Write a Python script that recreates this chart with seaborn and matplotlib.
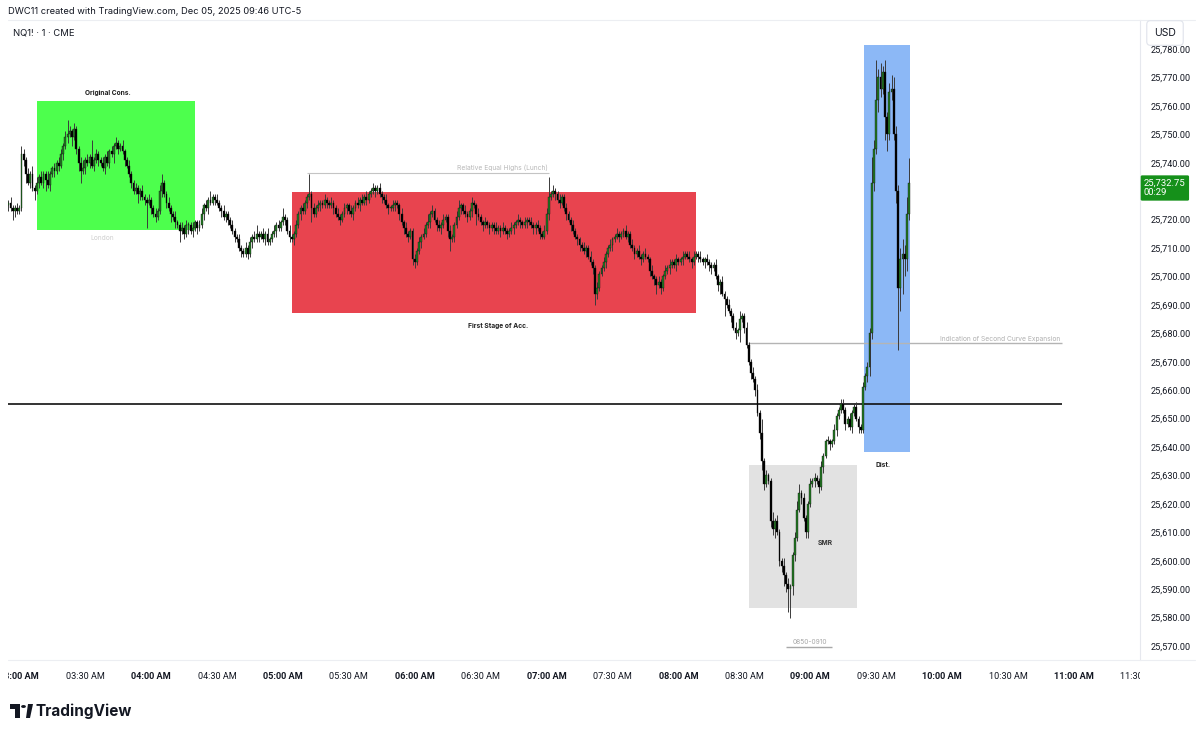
import numpy as np
import pandas as pd
import seaborn as sns
import matplotlib.pyplot as plt
from matplotlib.patches import Rectangle, Circle, Polygon
from matplotlib.transforms import Bbox, TransformedBbox

# NQ1! 1-minute closes, offsets from 25,700 (first candle 02:55)
base = 25700
first_open = 25
closes = [
    26, 24, 23, 24, 23, 24, 43, 41, 36, 33, 36, 31, 30, 33, 35, 33, 36, 34, 32, 36,
    38, 37, 40, 39, 43, 46, 49, 50, 51, 49, 52, 45, 40, 37, 38, 41, 40, 42, 39, 41,
    43, 41, 40, 38, 42, 40, 44, 43, 46, 47, 45, 46, 44, 41, 39, 36, 33, 30, 31, 29,
    30, 28, 27, 26, 27, 24, 22, 21, 23, 30, 33, 29, 26, 24, 22, 21, 19, 18, 16, 17,
    15, 18, 18, 16, 17, 19, 17, 18, 22, 25, 24, 27, 26, 28, 27, 26, 24, 23, 21, 22,
    20, 18, 16, 14, 13, 10, 9, 8, 10, 8, 12, 14, 13, 15, 14, 15, 13, 15, 12, 13,
    15, 16, 18, 17, 19, 21, 20, 16, 14, 13, 15, 18, 22, 24, 23, 26, 28, 29, 24, 22,
    24, 25, 26, 25, 27, 26, 25, 26, 24, 22, 21, 20, 22, 24, 25, 23, 22, 24, 26, 25,
    27, 26, 28, 27, 29, 30, 31, 30, 31, 29, 28, 27, 25, 24, 24, 25, 26, 25, 22, 19,
    17, 15, 14, 16, 6, 5, 9, 12, 14, 15, 18, 19, 22, 23, 20, 18, 17, 18, 20, 21,
    16, 13, 14, 18, 21, 24, 25, 23, 22, 21, 23, 26, 25, 22, 21, 19, 18, 19, 18, 17,
    18, 17, 16, 17, 16, 17, 16, 15, 16, 17, 18, 19, 20, 19, 18, 19, 20, 19, 18, 17,
    18, 17, 15, 14, 16, 22, 28, 29, 30, 29, 27, 26, 28, 24, 22, 20, 18, 16, 14, 13,
    11, 10, 9, 10, 7, 5, 3, -6, -4, 1, 3, 5, 8, 10, 11, 13, 14, 15, 14, 15,
    16, 14, 15, 11, 10, 8, 9, 7, 6, 8, 7, 6, 2, 0, -1, -3, -2, -4, 0, 2,
    3, 4, 5, 4, 6, 5, 6, 7, 8, 7, 6, 5, 7, 8, 7, 6, 5, 6, 5, 4,
    3, 4, 0, -3, -2, -6, -8, -10, -12, -14, -18, -20, -19, -15, -14, -18, -24, -30, -34, -36,
    -40, -48, -55, -65, -73, -70, -72, -86, -89, -86, -90, -100, -102, -105, -108, -110, -109, -98, -92, -82,
    -76, -78, -85, -90, -80, -73, -72, -71, -72, -74, -67, -63, -58, -58, -59, -58, -54, -49, -47, -45,
    -47, -52, -50, -53, -48, -46, -50, -53, -54, -39, -35, -32, -20, 33, 45, 62, 70, 66, 72, 56,
    50, 65, 66, 50, 30, -4, 6, 8, 6, 22, 32.75,
]
# wick lengths above / below the candle body (points)
wick_hi = [
    1, 2, 1, 1, 2, 1, 3, 2, 1, 2, 1, 3, 1, 2, 1, 2, 1, 1, 3, 1,
    1, 2, 1, 2, 2, 1, 2, 5, 2, 1, 2, 1, 1, 2, 3, 1, 2, 1, 6, 1,
    2, 1, 1, 2, 1, 2, 1, 2, 1, 2, 1, 1, 2, 1, 1, 2, 1, 1, 2, 1,
    1, 2, 1, 1, 2, 1, 1, 2, 1, 2, 3, 1, 1, 2, 1, 1, 2, 1, 1, 2,
    1, 2, 1, 1, 2, 1, 1, 2, 2, 1, 2, 1, 3, 1, 1, 2, 1, 1, 2, 1,
    1, 1, 2, 1, 1, 2, 1, 1, 2, 1, 2, 1, 2, 3, 1, 1, 2, 1, 2, 1,
    1, 2, 1, 2, 1, 3, 1, 1, 2, 1, 1, 2, 1, 1, 2, 1, 1, 7, 1, 2,
    1, 2, 1, 1, 2, 1, 1, 2, 1, 1, 2, 1, 1, 2, 1, 1, 2, 1, 1, 2,
    1, 2, 1, 2, 1, 1, 2, 1, 1, 2, 1, 1, 2, 1, 1, 2, 1, 1, 1, 2,
    1, 2, 1, 1, 1, 2, 1, 2, 1, 2, 1, 3, 1, 2, 1, 1, 2, 1, 2, 1,
    1, 2, 1, 1, 2, 3, 1, 1, 2, 1, 1, 2, 1, 1, 2, 1, 1, 2, 1, 1,
    1, 1, 2, 1, 1, 2, 1, 1, 1, 2, 1, 1, 2, 1, 1, 2, 1, 1, 2, 1,
    1, 2, 1, 1, 2, 2, 7, 1, 2, 1, 1, 2, 1, 1, 2, 1, 1, 2, 1, 1,
    1, 1, 2, 1, 1, 2, 1, 1, 2, 1, 1, 2, 1, 1, 2, 1, 1, 2, 1, 1,
    1, 2, 1, 1, 2, 1, 1, 2, 1, 1, 2, 1, 1, 2, 1, 1, 2, 1, 1, 2,
    1, 2, 1, 1, 2, 1, 1, 2, 1, 1, 2, 1, 2, 1, 1, 2, 1, 1, 2, 1,
    1, 1, 2, 1, 1, 2, 1, 1, 2, 1, 1, 2, 1, 3, 1, 1, 2, 1, 1, 2,
    1, 2, 1, 5, 1, 2, 1, 1, 3, 1, 2, 1, 1, 3, 1, 2, 1, 1, 2, 3,
    3, 1, 2, 1, 1, 2, 1, 2, 1, 1, 2, 1, 1, 2, 1, 1, 2, 1, 1, 2,
    2, 1, 1, 2, 1, 1, 2, 1, 1, 2, 1, 2, 2, 9, 3, 14, 3, 5, 2, 4,
    2, 3, 5, 4, 3, 2, 4, 5, 3, 6, 9,
]
wick_lo = [
    2, 1, 3, 2, 1, 1, 1, 2, 3, 1, 2, 1, 3, 1, 2, 1, 2, 4, 1, 2,
    1, 2, 1, 2, 1, 2, 1, 2, 1, 3, 1, 2, 3, 4, 1, 2, 1, 2, 1, 2,
    1, 2, 1, 1, 2, 1, 2, 1, 3, 1, 2, 1, 1, 2, 1, 1, 2, 1, 1, 3,
    2, 1, 2, 9, 1, 2, 1, 2, 1, 1, 2, 1, 2, 1, 3, 1, 2, 1, 4, 1,
    2, 1, 3, 1, 2, 1, 2, 1, 1, 2, 1, 2, 1, 1, 2, 1, 1, 2, 1, 2,
    2, 1, 1, 2, 1, 1, 2, 1, 1, 2, 1, 2, 1, 1, 2, 1, 1, 2, 1, 1,
    1, 1, 2, 1, 1, 1, 2, 1, 2, 1, 2, 1, 1, 2, 1, 1, 2, 1, 5, 1,
    1, 1, 2, 1, 1, 2, 1, 1, 2, 1, 1, 2, 1, 1, 2, 1, 1, 2, 1, 1,
    2, 1, 1, 2, 1, 1, 1, 2, 1, 1, 2, 1, 1, 2, 1, 1, 2, 1, 2, 1,
    2, 1, 2, 1, 2, 2, 1, 1, 2, 1, 1, 1, 2, 1, 1, 2, 1, 2, 1, 1,
    2, 4, 1, 2, 1, 1, 2, 1, 1, 2, 1, 2, 1, 4, 1, 1, 2, 1, 1, 2,
    1, 2, 1, 1, 2, 1, 1, 2, 1, 1, 2, 1, 1, 2, 1, 1, 2, 1, 1, 2,
    2, 1, 2, 1, 1, 1, 2, 1, 1, 2, 1, 2, 1, 1, 2, 1, 2, 1, 1, 2,
    2, 1, 1, 2, 1, 1, 2, 4, 2, 1, 1, 1, 2, 1, 1, 2, 1, 1, 2, 1,
    1, 1, 2, 1, 1, 2, 1, 1, 2, 1, 1, 1, 2, 1, 2, 3, 1, 2, 1, 1,
    1, 2, 1, 1, 2, 1, 1, 2, 1, 1, 1, 2, 1, 1, 2, 1, 1, 2, 1, 2,
    2, 1, 1, 2, 3, 1, 6, 1, 1, 2, 1, 2, 1, 4, 1, 2, 1, 1, 2, 1,
    2, 1, 2, 3, 2, 1, 1, 2, 2, 3, 1, 2, 2, 4, 3, 8, 10, 3, 2, 1,
    1, 2, 1, 2, 2, 1, 1, 2, 1, 2, 1, 2, 1, 1, 2, 1, 1, 2, 1, 1,
    1, 2, 1, 1, 2, 1, 1, 2, 1, 1, 1, 2, 3, 2, 3, 2, 4, 3, 2, 8,
    6, 2, 3, 2, 4, 22, 8, 12, 6, 4, 2,
]
start_min = 175  # 02:55 AM
price_ticks = list(range(25570, 25790, 10))
hour_labels = ['03:00 AM', '03:30 AM', '04:00 AM', '04:30 AM', '05:00 AM', '05:30 AM',
               '06:00 AM', '06:30 AM', '07:00 AM', '07:30 AM', '08:00 AM', '08:30 AM',
               '09:00 AM', '09:30 AM', '10:00 AM', '10:30 AM', '11:00 AM', '11:30 AM']

n = min(len(closes), len(wick_hi), len(wick_lo))
c = base + np.array(closes[:n], float)
o = np.r_[base + first_open, c[:-1]]
df = pd.DataFrame({
    'i': np.arange(n),
    'open': o,
    'close': c,
    'high': np.maximum(o, c) + np.array(wick_hi[:n]),
    'low': np.minimum(o, c) - np.array(wick_lo[:n]),
})
df['up'] = df['close'] >= df['open']

sns.set_theme(style="white")
plt.rcParams['font.family'] = ['Inter', 'DejaVu Sans']
scale_font = ['Roboto', 'DejaVu Sans']

W, H = 1200, 734
fig = plt.figure(figsize=(12, 7.34), dpi=100)
ax = fig.add_axes([8 / W, 1 - 660 / H, 1132 / W, 640 / H])
ax.set_xlim(-0.14, 515.1)
ax.set_ylim(25565.1, 25790.2)


def box(x0, x1, y0, y1, color):
    ax.add_patch(Rectangle((x0, y0), x1 - x0, y1 - y0, facecolor=color, edgecolor='none', zorder=1))


box(13.1, 85.0, 25716.3, 25761.7, '#4dff4d')
box(129.2, 313.0, 25687.1, 25729.7, '#e8444f')
box(337.1, 386.3, 25583.4, 25633.7, '#e2e2e2')
box(389.5, 410.4, 25638.3, 25781.4, '#8cb8f6')

# reference lines
ax.hlines(25655.1, -0.2, 479.6, color='#111111', lw=1.2, zorder=2)
ax.hlines(25676.6, 336.7, 479.6, color='#b4b4b4', lw=1.0, zorder=2)
ax.hlines(25736.4, 136.0, 246.0, color='#c4c4c4', lw=0.8, zorder=2)
ax.hlines(25569.7, 354.0, 375.0, color='#a8a8a8', lw=1.0, zorder=2)

# candles
ax.vlines(df['i'], df['low'], df['high'], color='#3a3a3a', lw=0.7, zorder=3)
body_lo = np.minimum(df['open'], df['close'])
body_h = np.maximum(np.abs(df['close'] - df['open']), 0.35)
colors = np.where(df['up'], '#247a24', '#000000')
ax.bar(df['i'], body_h, bottom=body_lo, width=0.85, color=colors,
       edgecolor='#0a0a0a', linewidth=0.25, zorder=4)

# annotations
ann = dict(ha='center', va='center', zorder=5)
ax.text(45.4, 25764.5, 'Original Cons.', fontsize=4.8, fontweight='bold', color='#222222', **ann)
ax.text(42.7, 25713.5, 'London', fontsize=4.8, color='#cfcfcf', **ann)
ax.text(224.7, 25738.1, 'Relative Equal Highs (Lunch)', fontsize=4.8, color='#b8b8b8', **ann)
ax.text(222.9, 25682.6, 'First Stage of Acc.', fontsize=4.8, fontweight='bold', color='#222222', **ann)
ax.text(479.0, 25678.0, 'Indication of Second Curve Expansion', fontsize=4.8, color='#b0b0b0',
        ha='right', va='center', zorder=5)
ax.text(371.7, 25606.2, 'SMR', fontsize=4.8, fontweight='bold', color='#333333', **ann)
ax.text(364.9, 25571.6, '0850-0910', fontsize=4.8, color='#a8a8a8', **ann)
ax.text(398.1, 25633.7, 'Dist.', fontsize=4.8, fontweight='bold', color='#222222', **ann)

# price scale on the right (25,730 sits under the last-price tag)
ax.yaxis.tick_right()
ax.set_yticks(price_ticks)
ax.set_yticklabels(['' if p == 25730 else f'{p:,.2f}' for p in price_ticks])
ax.tick_params(axis='y', length=0, pad=8, labelsize=6.6, labelcolor='#131722')
for lab in ax.get_yticklabels():
    lab.set_family(scale_font)
ax.set_xticks([])
for s in ['left', 'top', 'bottom']:
    ax.spines[s].set_visible(False)
ax.spines['right'].set_color('#e6e8ee')
ax.spines['right'].set_linewidth(0.8)

# time scale (clipped to the pane like the original)
clip = TransformedBbox(Bbox([[8 / W, 0], [1140 / W, 1]]), fig.transFigure)
for k, lab in enumerate(hour_labels):
    xi = (180 + 30 * k) - start_min
    t = ax.text(xi, -0.019, lab, transform=ax.get_xaxis_transform(), ha='center', va='top',
                fontsize=6.6, color='#131722', family=scale_font,
                fontweight='bold' if lab.endswith(':00 AM') else 'normal')
    t.set_clip_on(True)
    t.set_clip_box(clip)
fig.add_artist(plt.Line2D([8 / W, 1195 / W], [1 - 660 / H, 1 - 660 / H], color='#eceef2', lw=0.8))
fig.add_artist(plt.Line2D([8 / W, 1195 / W], [1 - 20 / H, 1 - 20 / H], color='#eceef2', lw=0.8))

# header
fig.text(8 / W, 1 - 12 / H, 'DWC11 created with TradingView.com, Dec 05, 2025 09:46 UTC-5',
         fontsize=6.7, color='#131722', va='center')
fig.text(13 / W, 1 - 33 / H, 'NQ1! · 1 · CME', fontsize=6.8, color='#131722', va='center')
fig.text(1165 / W, 1 - 33 / H, 'USD', fontsize=7.5, color='#131722', ha='center', va='center',
         bbox=dict(boxstyle='round,pad=0.7,rounding_size=0.35', fc='white', ec='#e0e3eb', lw=0.8))

# last price tag
fig.text(1144 / W, 1 - 188 / H, '25,732.75\n00:29', fontsize=6.8, color='white', ha='left', va='center',
         linespacing=1.1, zorder=10, family=scale_font,
         bbox=dict(boxstyle='round,pad=0.35,rounding_size=0.15', fc='#15901a', ec='none'))

# TradingView logo
fig.add_artist(Rectangle((10 / W, 1 - 709 / H), 10 / W, 5 / H, fc='#131722', ec='none', transform=fig.transFigure))
fig.add_artist(Rectangle((15 / W, 1 - 718 / H), 5 / W, 14 / H, fc='#131722', ec='none', transform=fig.transFigure))
fig.add_artist(Circle((23.5 / W, 1 - 706.5 / H), 2.4 / W, fc='#131722', ec='none', transform=fig.transFigure))
fig.add_artist(Polygon([(26 / W, 1 - 718 / H), (28 / W, 1 - 704 / H), (33 / W, 1 - 704 / H),
                        (30 / W, 1 - 718 / H)], closed=True, fc='#131722', ec='none', transform=fig.transFigure))
fig.text(36 / W, 1 - 711 / H, 'TradingView', fontsize=11, fontweight='bold', color='#131722', va='center')

fig.savefig('out.png', dpi=100, facecolor='white')
